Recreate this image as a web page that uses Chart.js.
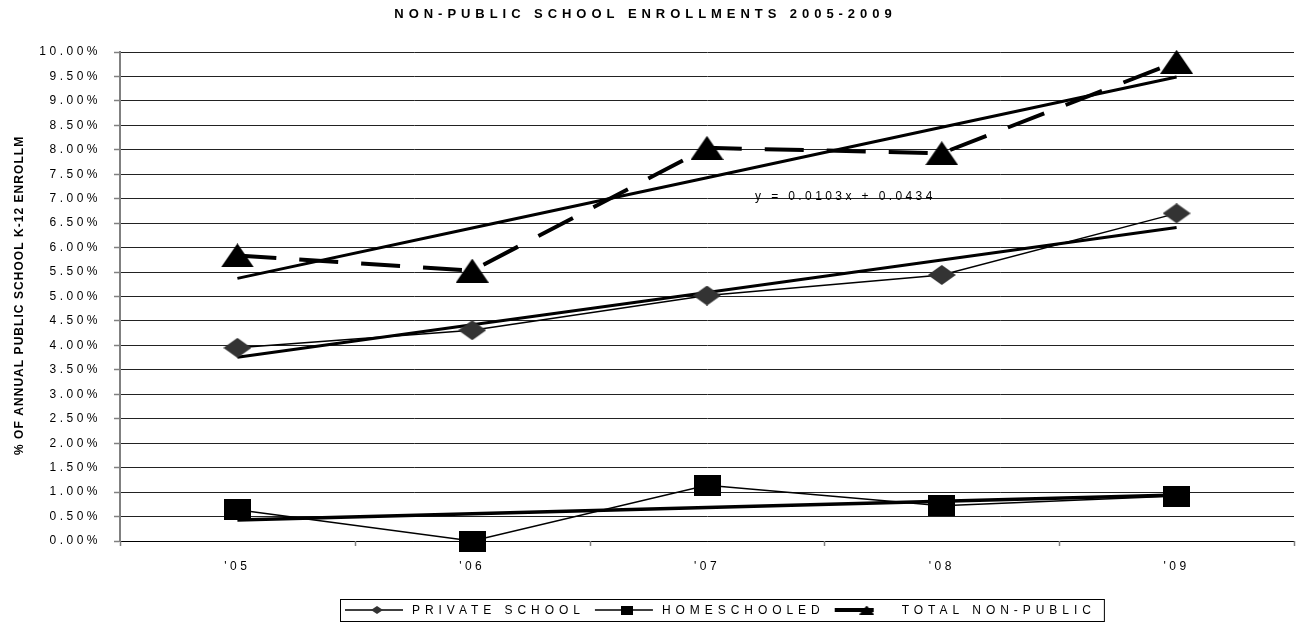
<!DOCTYPE html>
<html>
<head>
<meta charset="utf-8">
<script src="https://cdn.jsdelivr.net/npm/chart.js@4/dist/chart.umd.min.js"></script>
<style>
  html, body { margin: 0; padding: 0; background: #fff; overflow: hidden; }
  #wrap { width: 1296px; height: 622px; }
  canvas { display: block; }
</style>
</head>
<body>
<div id="wrap"><canvas id="chart-div" width="1296" height="622"></canvas></div>
<script>
// enrollment shares, as fractions of annual public K-12 enrollment
var years = ["'05", "'06", "'07", "'08", "'09"];
var seriesNames = ['PRIVATE SCHOOL', 'HOMESCHOOLED', 'TOTAL NON-PUBLIC'];
var privateSchool = [0.0395, 0.0431, 0.0502, 0.0544, 0.0670];
var homeschooled = [0.0064, 0.0000, 0.0114, 0.0072, 0.0092];
var totalNonPublic = [0.0584, 0.0553, 0.0804, 0.0793, 0.0980];
var totalTrend = [0.0103, 0.0434]; // slope, intercept
var yRange = [0, 0.10, 0.005];

var FONT = "'Liberation Sans', Arial, sans-serif";

// least squares line over x = 1..n
function fitLine(values) {
    var n = values.length, sx = 0, sy = 0, sxy = 0, sxx = 0;
    for (var i = 0; i < n; i++) {
        var x = i + 1;
        sx += x; sy += values[i]; sxy += x * values[i]; sxx += x * x;
    }
    var b = (n * sxy - sx * sy) / (n * sxx - sx * sx);
    var a = (sy - b * sx) / n;
    return [b, a];
}

function trendValues(coef, n) {
    var out = [];
    for (var i = 0; i < n; i++) out.push(coef[0] * (i + 1) + coef[1]);
    return out;
}

function makeMarker(shape, w, h, fill) {
    var c = document.createElement('canvas');
    c.width = w; c.height = h;
    var g = c.getContext('2d');
    g.fillStyle = fill;
    g.beginPath();
    if (shape == 'diamond') {
        g.moveTo(w / 2, 0); g.lineTo(w, h / 2); g.lineTo(w / 2, h); g.lineTo(0, h / 2);
    } else if (shape == 'triangle') {
        g.moveTo(w / 2, 0); g.lineTo(w, h); g.lineTo(0, h);
    } else {
        g.rect(0, 0, w, h);
    }
    g.closePath();
    g.fill();
    return c;
}

var markers = [
    makeMarker('diamond', 28, 20, '#333333'),
    makeMarker('square', 27, 21, '#000000'),
    makeMarker('triangle', 33, 24, '#000000')
];
var legendMarkers = [
    makeMarker('diamond', 12, 8, '#333333'),
    makeMarker('square', 12, 9, '#000000'),
    makeMarker('triangle', 15, 9, '#000000')
];

function drawSpaced(ctx, text, x, y, spacing, align) {
    ctx.save();
    ctx.textAlign = 'left';
    var w;
    if ('letterSpacing' in ctx) {
        ctx.letterSpacing = spacing + 'px';
        w = ctx.measureText(text).width - spacing;
        var x0 = align == 'center' ? x - w / 2 : x;
        ctx.fillText(text, x0, y);
    } else {
        w = 0;
        for (var i = 0; i < text.length; i++) w += ctx.measureText(text[i]).width + spacing;
        w -= spacing;
        var cx = align == 'center' ? x - w / 2 : x;
        for (var j = 0; j < text.length; j++) {
            ctx.fillText(text[j], cx, y);
            cx += ctx.measureText(text[j]).width + spacing;
        }
    }
    ctx.restore();
    return w;
}

// wide tracking for the tick labels
var tracking = {
    id: 'tracking',
    beforeUpdate: function (chart) { chart.ctx.letterSpacing = '3.5px'; },
    beforeDraw: function (chart) { chart.ctx.letterSpacing = '3.5px'; }
};

var decor = {
    id: 'decor',
    afterDraw: function (chart) {
        var ctx = chart.ctx;
        var xs = chart.scales.x, ys = chart.scales.y;
        ctx.save();

        // short category separators under the x axis
        ctx.strokeStyle = '#808080';
        ctx.lineWidth = 1.5;
        ctx.beginPath();
        for (var t = 0; t <= years.length; t++) {
            var px = Math.round(xs.left + t * xs.width / years.length) + 0.5;
            ctx.moveTo(px, xs.top);
            ctx.lineTo(px, xs.top + 5);
        }
        ctx.stroke();

        ctx.fillStyle = '#000';
        ctx.textBaseline = 'middle';

        // title
        ctx.font = 'bold 13px ' + FONT;
        drawSpaced(ctx, 'NON-PUBLIC SCHOOL ENROLLMENTS 2005-2009', 643, 14, 4.95, 'center');

        // y axis title, clipped at the top
        ctx.save();
        ctx.beginPath();
        ctx.rect(0, 135, 60, 400);
        ctx.clip();
        ctx.translate(20, 455);
        ctx.rotate(-Math.PI / 2);
        ctx.font = 'bold 12px ' + FONT;
        drawSpaced(ctx, '% OF ANNUAL PUBLIC SCHOOL K-12 ENROLLMENT', 0, 0, 1.05, 'left');
        ctx.restore();

        // trend equation
        ctx.font = '12px ' + FONT;
        var eq = 'y = ' + totalTrend[0].toFixed(4) + 'x + ' + totalTrend[1].toFixed(4);
        drawSpaced(ctx, eq, xs.getPixelForValue(2) + 48, ys.getPixelForValue(0.0705), 3.4, 'left');

        // legend
        var lx = 340, ly = 599, lh = 22;
        var cy = ly + lh / 2;
        var cursor = lx + 5;
        ctx.font = '12px ' + FONT;
        for (var i = 0; i < seriesNames.length; i++) {
            var ds = chart.data.datasets[i];
            ctx.save();
            ctx.strokeStyle = '#000';
            ctx.lineWidth = ds.borderWidth;
            ctx.setLineDash(ds.borderDash || []);
            ctx.beginPath();
            ctx.moveTo(cursor, cy);
            ctx.lineTo(cursor + 58, cy);
            ctx.stroke();
            ctx.restore();
            var m = legendMarkers[i];
            ctx.drawImage(m, cursor + 32 - m.width / 2, cy - m.height / 2);
            cursor += 58 + 9;
            var w = drawSpaced(ctx, seriesNames[i], cursor, cy + 1, 4.95, 'left');
            cursor += w + 15;
        }
        ctx.strokeStyle = '#000';
        ctx.lineWidth = 1;
        ctx.strokeRect(lx + 0.5, ly + 0.5, cursor - lx - 2, lh);
        ctx.restore();
    }
};

var privateFit = fitLine(privateSchool);
var homeFit = fitLine(homeschooled);

var config = {
    type: 'line',
    data: {
        labels: years,
        datasets: [{
            label: seriesNames[0],
            data: privateSchool,
            borderColor: '#000',
            borderWidth: 1.5,
            pointStyle: markers[0],
            pointRadius: 10,
            tension: 0,
            clip: false
        }, {
            label: seriesNames[1],
            data: homeschooled,
            borderColor: '#000',
            borderWidth: 1.5,
            pointStyle: markers[1],
            pointRadius: 10,
            tension: 0,
            clip: false
        }, {
            label: seriesNames[2],
            data: totalNonPublic,
            borderColor: '#000',
            borderWidth: 4,
            borderDash: [39, 23],
            borderCapStyle: 'butt',
            pointStyle: markers[2],
            pointRadius: 12,
            tension: 0,
            clip: false
        }, {
            label: 'private trend',
            data: trendValues(privateFit, years.length),
            borderColor: '#000',
            borderWidth: 3,
            pointRadius: 0
        }, {
            label: 'homeschool trend',
            data: trendValues(homeFit, years.length),
            borderColor: '#000',
            borderWidth: 3.5,
            pointRadius: 0
        }, {
            label: 'total trend',
            data: trendValues(totalTrend, years.length),
            borderColor: '#000',
            borderWidth: 3,
            pointRadius: 0
        }]
    },
    options: {
        responsive: false,
        animation: false,
        devicePixelRatio: 1,
        layout: {
            autoPadding: false, // markers may overhang the plot edge
            padding: { top: 52, right: 2, left: 0, bottom: 0 }
        },
        plugins: {
            legend: { display: false },
            title: { display: false },
            tooltip: { enabled: false }
        },
        scales: {
            x: {
                offset: true,
                grid: {
                    offset: true,
                    drawOnChartArea: false,
                    drawTicks: true,
                    tickLength: 18,
                    tickColor: 'rgba(0,0,0,0)'
                },
                border: { color: '#000', width: 1 },
                ticks: {
                    color: '#000',
                    font: { family: FONT, size: 12 },
                    padding: 0,
                    maxRotation: 0
                },
                afterFit: function (scale) {
                    scale.height = 81;
                    scale.paddingLeft = 0;
                    scale.paddingRight = 0;
                }
            },
            y: {
                min: yRange[0],
                max: yRange[1],
                grid: {
                    color: '#222',
                    lineWidth: 1,
                    drawTicks: true,
                    tickLength: 6,
                    tickColor: '#808080',
                    tickWidth: 1.5
                },
                border: { color: '#808080', width: 2 },
                ticks: {
                    stepSize: yRange[2],
                    color: '#000',
                    font: { family: FONT, size: 12 },
                    padding: 13,
                    callback: function (v) { return (v * 100).toFixed(2) + '%'; }
                },
                afterFit: function (scale) { scale.width = 120; }
            }
        }
    },
    plugins: [tracking, decor]
};

var chart = new Chart(document.getElementById('chart-div').getContext('2d'), config);
</script>
</body>
</html>
